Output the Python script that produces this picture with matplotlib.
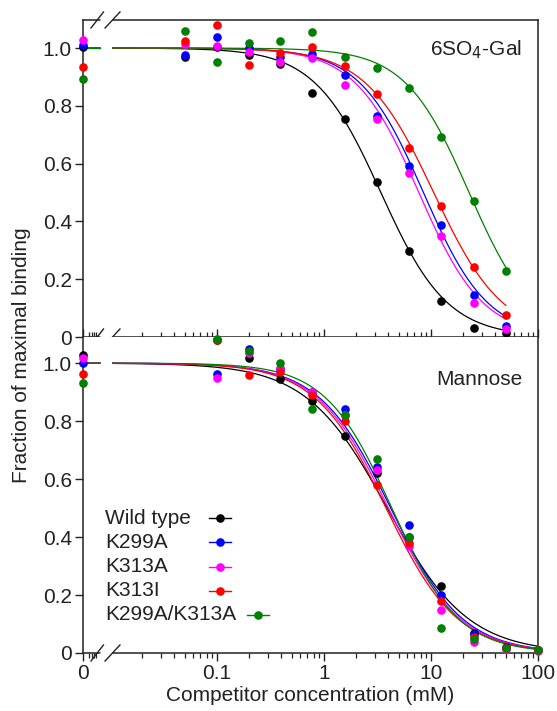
import numpy as np
import matplotlib
matplotlib.use("Agg")
import matplotlib.pyplot as plt
from matplotlib.lines import Line2D

plt.rcParams['font.family'] = ['Liberation Sans', 'DejaVu Sans']

# ---------------- data ----------------
names = ["Wild type", "K299A", "K313A", "K313I", "K299A/K313A"]
colors = ["#000000", "#0000ff", "#ff00ff", "#ff0000", "#008000"]

conc_top = [0, 0.05, 0.1, 0.2, 0.39, 0.78, 1.56, 3.125, 6.25, 12.5, 25, 50]
gal_wt = [1.005, 0.968, 1.005, 0.976, 0.945, 0.845, 0.754, 0.537, 0.299, 0.125, 0.030, 0.013]
gal_k299a = [1.010, 0.976, 1.037, 0.999, 0.970, 0.980, 0.907, 0.765, 0.592, 0.388, 0.145, 0.038]
gal_k313a = [1.028, 1.014, 1.007, 0.987, 0.950, 0.964, 0.872, 0.754, 0.566, 0.349, 0.117, 0.027]
gal_k313i = [0.935, 1.025, 1.080, 0.941, 0.982, 1.002, 0.938, 0.841, 0.654, 0.454, 0.241, 0.076]
gal_dbl = [0.893, 1.060, 0.950, 1.018, 1.024, 1.056, 0.970, 0.930, 0.861, 0.691, 0.470, 0.229]

conc_bot = [0, 0.1, 0.2, 0.39, 0.78, 1.56, 3.125, 6.25, 12.5, 25, 50, 100]
man_wt = [1.028, 1.080, 1.016, 0.944, 0.870, 0.750, 0.620, 0.400, 0.230, 0.070, 0.020, 0.010]
man_k299a = [0.999, 0.964, 1.047, 0.980, 0.900, 0.840, 0.640, 0.440, 0.200, 0.065, 0.018, 0.009]
man_k313a = [1.016, 0.947, 1.036, 0.982, 0.900, 0.820, 0.630, 0.370, 0.150, 0.039, 0.014, 0.008]
man_k313i = [0.964, 1.078, 0.959, 0.970, 0.890, 0.800, 0.580, 0.380, 0.180, 0.055, 0.016, 0.009]
man_dbl = [0.933, 1.082, 1.040, 1.001, 0.840, 0.820, 0.670, 0.400, 0.085, 0.050, 0.016, 0.009]

# fitted curve parameters (IC50 in mM, Hill slope)
gal_ic50 = [3.4, 8.5, 7.7, 10.6, 22.7]
gal_hill = [1.4, 1.45, 1.45, 1.35, 1.45]
man_ic50 = [3.9, 4.2, 4.0, 3.8, 4.3]
man_hill = [1.15, 1.3, 1.3, 1.3, 1.4]

top_series = [gal_wt, gal_k299a, gal_k313a, gal_k313i, gal_dbl]
bot_series = [man_wt, man_k299a, man_k313a, man_k313i, man_dbl]

# ---------------- layout ----------------
X0 = 0.0056          # position used for the "0" concentration
BRK_LO, BRK_HI = 0.0081, 0.0105
FS = 15
TXT = '#222222'
W, H = 557, 711
fig = plt.figure(figsize=(W / 100, H / 100), dpi=100)
left, right = 83 / W, 538 / W
ax1 = fig.add_axes([left, 1 - 337 / H, right - left, (337 - 20) / H])
ax2 = fig.add_axes([left, 1 - 653 / H, right - left, (653 - 337) / H])

def curve(ic50, h, xmax):
    xs = np.logspace(np.log10(X0), np.log10(xmax), 400)
    ys = 1.0 / (1.0 + (xs / ic50) ** h)
    return xs, ys

def draw(ax, conc, series, ic50s, hills, xmax):
    xpos = [X0 if c == 0 else c for c in conc]
    for ys, col, ic, hh in zip(series, colors, ic50s, hills):
        xs, yc = curve(ic, hh, xmax)
        m1 = xs <= BRK_LO
        m2 = xs >= BRK_HI
        ax.plot(xs[m1], yc[m1], color=col, lw=0.9, zorder=2)
        ax.plot(xs[m2], yc[m2], color=col, lw=0.9, zorder=2)
    for ys, col in zip(series, colors):
        ax.plot(xpos, ys, 'o', color=col, ms=6.2, mec='none', zorder=5, clip_on=False)

draw(ax1, conc_top, top_series, gal_ic50, gal_hill, 50)
draw(ax2, conc_bot, bot_series, man_ic50, man_hill, 100)

minor = [0.00637, 0.00679, 0.00708, 0.00739] + \
        [m * d for d in (0.01, 0.1, 1, 10) for m in range(2, 10)]

for ax, ytop in ((ax1, 1.097), (ax2, 1.09)):
    ax.set_xscale('log')
    ax.set_xlim(X0, 100)
    ax.set_ylim(0, ytop)
    ax.set_xticks([X0, 0.1, 1, 10, 100])
    ax.set_xticks(minor, minor=True)
    ax.set_yticks([0, 0.2, 0.4, 0.6, 0.8, 1.0])
    ax.set_yticklabels(["0", "0.2", "0.4", "0.6", "0.8", "1.0"])
    ax.tick_params(axis='both', which='major', labelsize=FS, width=1.0, length=6, color=TXT,
                   labelcolor=TXT, pad=2)
    ax.tick_params(axis='x', which='minor', width=0.9, length=3.5, color=TXT)
    for s in ax.spines.values():
        s.set_linewidth(1.1)
        s.set_color(TXT)

ax1.tick_params(axis='x', which='both', direction='in', labelbottom=False)
ax2.tick_params(axis='x', which='both', direction='out')
ax2.set_xticklabels(["0", "0.1", "1", "10", "100"])
ax2.spines['top'].set_visible(False)

# axis break marks
def brk(ax, yax, hpx):
    tr = ax.get_xaxis_transform()
    d = 8.0 / hpx
    ax.plot([BRK_LO, BRK_HI], [yax, yax], color='white', lw=2.5, transform=tr,
            clip_on=False, zorder=6, solid_capstyle='butt')
    for xa, xb in ((0.00665, 0.0087), (0.0090, 0.0124)):
        ax.plot([xa, xb], [yax - d, yax + d], color=TXT, lw=1.0, transform=tr,
                clip_on=False, zorder=7)

brk(ax1, 1.0, 317)
brk(ax1, 0.0, 317)
brk(ax2, 0.0, 316)

ax1.text(0.965, 0.905, "6SO$_4$-Gal", transform=ax1.transAxes, ha='right', va='center',
         fontsize=FS, color=TXT)
ax2.text(0.965, 0.865, "Mannose", transform=ax2.transAxes, ha='right', va='center',
         fontsize=FS, color=TXT)

ax2.set_xlabel("Competitor concentration (mM)", fontsize=FS, color=TXT, labelpad=2)
fig.text(22 / W, 0.5, "Fraction of maximal binding", rotation=90, ha='center', va='center',
         fontsize=FS, color=TXT)

# legend drawn manually (marker right of text, as in the original)
leg_rows = [518, 542, 567, 591, 615]
marker_px = [220, 220, 220, 220, 258]
for name, col, ypx, mx in zip(names, colors, leg_rows, marker_px):
    fy = 1 - ypx / H
    fig.text(105 / W, fy, name, ha='left', va='center', fontsize=FS, color=TXT)
    fig.add_artist(Line2D([(mx - 11) / W, (mx + 11) / W], [fy, fy], color=col, lw=1.0,
                          transform=fig.transFigure))
    fig.add_artist(Line2D([mx / W], [fy], marker='o', color=col, ms=6.2, mec='none',
                          transform=fig.transFigure))

fig.savefig("out.png", dpi=100)
